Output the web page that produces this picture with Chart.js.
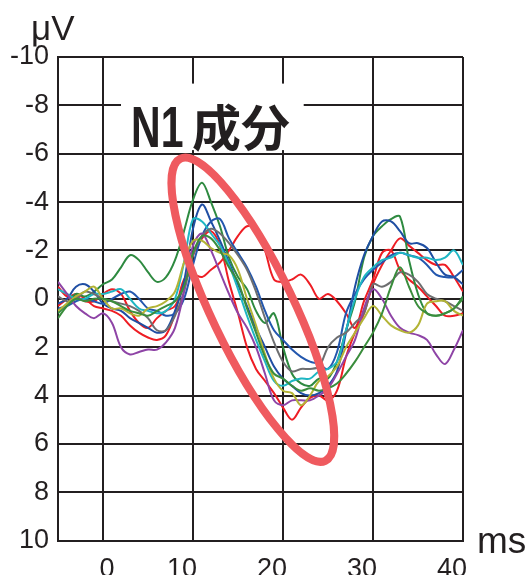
<!DOCTYPE html>
<html>
<head>
<meta charset="utf-8">
<script src="https://cdn.jsdelivr.net/npm/chart.js@4.4.1/dist/chart.umd.min.js"></script>
<style>
  html, body { margin: 0; padding: 0; background: #fff; overflow: hidden; }
  #wrap { position: relative; width: 529px; height: 599px; }
</style>
</head>
<body>
<div id="wrap"><canvas id="n1Chart"></canvas></div>
<script>
// time axis (ms) and tick values
const timeMs = [-5, -4, -3, -2, -1, 0, 1, 2, 3, 4, 5, 6, 7, 8, 9, 10, 11, 12, 13, 14, 15, 16, 17, 18, 19, 20,
  21, 22, 23, 24, 25, 26, 27, 28, 29, 30, 31, 32, 33, 34, 35, 36, 37, 38, 39, 40];
const xTicks = [0, 10, 20, 30, 40];
const yTicks = [-10, -8, -6, -4, -2, 0, 2, 4, 6, 8, 10];

// waveforms (uV), one value per ms
const green1 = [0.6, 0.2, -0.2, -0.1, -0.3, -0.6, -0.8, -1.3, -1.8, -1.6, -1.1, -0.7, -0.9, -1.6, -2.8, -4.1,
  -4.8, -4.0, -3.0, -1.7, -0.9, -0.4, 0.5, 1.0, 0.6, 2.0, 3.1, 3.5, 3.6, 3.3, 3.3, 2.6, 1.3, 0.1, -1.7, -2.6,
  -3.0, -3.3, -3.4, -1.6, -0.2, 0.6, 0.7, 0.6, 0.4, -0.1];
const green2 = [0.8, 0.3, 0.0, 0.1, 0.0, 0.0, 0.1, 0.3, 0.5, 0.6, 0.7, 0.5, 0.3, 0.1, -0.5, -1.9,
  -2.6, -2.5, -2.0, -1.3, -0.7, 0.4, 1.4, 2.4, 3.1, 3.3, 3.6, 3.8, 3.7, 3.8, 3.7, 3.5, 3.1, 2.6, 2.0, 1.4,
  0.6, -0.5, -1.3, -0.5, 0.3, 0.6, 0.7, 0.6, 0.4, 0.0];
const blue1 = [0.2, 0.0, -0.5, -0.6, -0.3, 0.2, 0.4, 0.5, 0.8, 1.0, 1.2, 1.4, 1.3, 0.5, -0.7, -2.9,
  -3.9, -3.2, -2.4, -1.5, -0.6, 0.3, 1.2, 2.0, 2.8, 3.3, 3.6, 3.9, 4.0, 3.9, 3.6, 3.0, 1.4, -0.5, -1.8, -2.6,
  -3.2, -3.2, -2.8, -2.3, -2.3, -2.1, -1.5, -1.0, -0.9, -0.6];
const blue2 = [0.4, 0.3, 0.1, 0.0, 0.1, 0.2, 0.0, -0.2, -0.3, 0.0, 0.4, 0.5, 0.7, 0.6, 0.0, -1.4,
  -2.6, -3.2, -3.3, -2.5, -1.9, -1.3, -0.5, 0.5, 1.3, 1.7, 2.1, 2.4, 2.6, 2.7, 2.9, 2.2, 0.6, -0.2, -0.8, -1.2,
  -1.5, -1.8, -1.9, -1.8, -1.7, -1.4, -1.0, -0.9, -0.9, -1.2];
const cyan = [-0.4, -0.2, 0.0, 0.0, -0.2, -0.2, -0.3, -0.4, 0.0, 0.4, 0.5, 0.6, 0.5, 0.0, -1.5, -3.3,
  -3.2, -2.7, -2.2, -1.4, -0.4, 0.7, 1.7, 2.6, 3.4, 3.6, 3.4, 3.3, 3.3, 3.0, 2.9, 2.6, 1.3, 0.0, -0.9, -1.3,
  -1.6, -1.7, -1.9, -1.8, -1.7, -1.7, -1.6, -1.7, -2.0, -1.4];
const gray = [-0.1, 0.1, 0.0, -0.3, -0.2, 0.0, 0.1, 0.2, 0.3, 0.5, 0.8, 1.3, 1.3, 0.7, -0.3, -1.8,
  -2.6, -2.9, -2.7, -2.3, -1.8, -1.2, -0.3, 0.8, 1.8, 2.6, 3.0, 2.9, 2.9, 2.8, 2.0, 1.6, 1.4, 1.0, 0.6, -0.6,
  -0.5, -0.7, -1.1, -1.0, -0.7, -0.2, 0.0, 0.1, 0.3, 0.5];
const purple = [-0.7, -0.2, 0.3, 0.6, 0.8, 0.6, 1.0, 2.0, 2.3, 2.2, 2.1, 2.1, 1.8, 1.2, -0.3, -2.2,
  -2.7, -2.0, -1.1, -0.2, 0.6, 1.2, 2.0, 3.1, 4.2, 4.4, 4.2, 4.2, 4.2, 4.0, 3.7, 3.1, 2.4, 1.7, 0.4, -0.4,
  0.0, 0.7, 1.2, 1.4, 1.5, 1.7, 2.3, 2.7, 2.1, 1.3];
const olive = [0.5, 0.2, -0.1, -0.3, -0.5, 0.0, 0.4, 0.4, 0.6, 0.7, 0.4, 0.3, 0.1, -0.3, -1.5, -2.4,
  -2.4, -2.1, -1.9, -1.8, -1.2, 0.0, 1.1, 2.3, 3.3, 3.8, 3.9, 4.4, 4.0, 3.4, 3.2, 2.8, 2.0, 1.4, 0.8, 0.3,
  0.7, 1.1, 1.3, 1.4, 1.1, 0.2, 0.1, 0.1, 0.5, 0.7];
const red1 = [-0.5, -0.1, -0.1, 0.1, 0.1, -0.2, -0.4, -0.2, 0.5, 1.0, 1.2, 0.8, 0.5, 0.3, -0.6, -1.8,
  -2.5, -2.8, -2.2, -0.7, 0.6, 2.0, 2.9, 3.4, 3.9, 4.5, 5.0, 4.5, 4.1, 4.0, 4.2, 3.8, 2.4, 1.4, 0.6, -0.6,
  -1.4, -2.0, -2.5, -2.2, -1.9, -1.6, -1.4, -1.4, -0.9, -0.3];
const red2 = [0.3, 0.0, -0.2, 0.0, 0.3, 0.4, 0.5, 0.7, 1.1, 1.4, 1.6, 1.7, 1.5, 0.6, -0.8, -1.0,
  -0.9, -1.2, -1.5, -2.0, -2.6, -3.0, -2.9, -2.0, -0.8, -0.7, -0.8, -1.0, -0.6, 0.0, -0.2, 0.1, 0.6, 1.2, 0.1, -0.8,
  -1.9, -2.0, -1.2, -0.8, -0.5, -0.1, 0.3, 0.7, 0.7, 0.6];

const ink = '#231f20';
const fontFamily = '"Liberation Sans", Arial, sans-serif';

// N1 label box and ellipse, in data units (ms, uV)
const labelBox = { x0: 2.0, x1: 22.3, y0: -8.9, y1: -6.15 };
const ellipseEnds = { x0: 8.6, y0: -5.8, x1: 24.7, y1: 6.7 };

function series(label, values, color) {
  return {
    label: label,
    data: timeMs.map((t, i) => ({ x: t, y: values[i] })),
    borderColor: color,
    borderWidth: 2,
    pointRadius: 0,
    tension: 0.35,
    fill: false
  };
}

const annotations = {
  id: 'annotations',
  beforeDatasetsDraw(chart) {
    const { ctx, scales: { x, y } } = chart;
    const bx0 = x.getPixelForValue(labelBox.x0);
    const bx1 = x.getPixelForValue(labelBox.x1);
    const by0 = y.getPixelForValue(labelBox.y0);
    const by1 = y.getPixelForValue(labelBox.y1);
    ctx.save();
    ctx.fillStyle = '#fff';
    ctx.fillRect(bx0, by0, bx1 - bx0, by1 - by0);

    ctx.fillStyle = ink;
    ctx.textBaseline = 'alphabetic';
    ctx.textAlign = 'left';
    // condensed, tall "N1"
    ctx.save();
    ctx.translate(bx0 + 10, by1 - 3);
    ctx.scale(0.72, 1);
    ctx.font = 'bold 57px ' + fontFamily;
    ctx.fillText('N1', 0, 0);
    ctx.restore();
    ctx.font = 'bold 49px "Noto Sans CJK JP", sans-serif';
    ctx.textBaseline = 'middle';
    ctx.fillText('成分', bx0 + 71, (by0 + by1) / 2 + 11);
    ctx.restore();
  },
  afterDatasetsDraw(chart) {
    const { ctx, scales: { x, y } } = chart;
    const px0 = x.getPixelForValue(ellipseEnds.x0);
    const py0 = y.getPixelForValue(ellipseEnds.y0);
    const px1 = x.getPixelForValue(ellipseEnds.x1);
    const py1 = y.getPixelForValue(ellipseEnds.y1);
    const cx = (px0 + px1) / 2;
    const cy = (py0 + py1) / 2;
    const semiMajor = Math.hypot(px1 - px0, py1 - py0) / 2;
    const angle = Math.atan2(py1 - py0, px1 - px0);
    ctx.save();
    ctx.beginPath();
    ctx.ellipse(cx, cy, semiMajor, 41, angle, 0, Math.PI * 2);
    ctx.lineWidth = 8;
    ctx.strokeStyle = '#ef5a5f';
    ctx.stroke();
    ctx.restore();
  },
  afterDraw(chart) {
    const { ctx, chartArea } = chart;
    ctx.save();
    ctx.fillStyle = ink;
    ctx.textBaseline = 'alphabetic';
    ctx.textAlign = 'left';
    ctx.font = '35px ' + fontFamily;
    ctx.fillText('μV', chartArea.left - 27, chartArea.top - 17);
    ctx.font = '37px ' + fontFamily;
    ctx.fillText('ms', chartArea.right + 14, chartArea.bottom + 12);
    ctx.restore();
  }
};

const chart = new Chart(document.getElementById('n1Chart'), {
  type: 'line',
  data: {
    datasets: [
      series('green 2', green2, '#3a8d3c'),
      series('olive', olive, '#b3b436'),
      series('purple', purple, '#8e44a6'),
      series('gray', gray, '#6d6e70'),
      series('cyan', cyan, '#1fb6c3'),
      series('blue 2', blue2, '#2357ae'),
      series('blue 1', blue1, '#1f4ea3'),
      series('green 1', green1, '#2e8a40'),
      series('red 1', red1, '#ee1d24'),
      series('red 2', red2, '#ee1d24')
    ]
  },
  options: {
    responsive: true,
    maintainAspectRatio: false,
    animation: false,
    layout: {
      padding: { top: 57, right: 66, left: 0, bottom: 0 }
    },
    scales: {
      x: {
        type: 'linear',
        min: -5,
        max: 40,
        afterBuildTicks: (scale) => { scale.ticks = xTicks.map(v => ({ value: v })); },
        grid: { color: ink, lineWidth: 2, drawTicks: false },
        border: { color: ink, width: 2 },
        ticks: {
          color: ink,
          font: { family: fontFamily, size: 27 },
          padding: 13,
          labelOffset: -11,
          maxRotation: 0,
          autoSkip: false,
          callback: (v) => v === 0 ? '\u2007\u20070' : String(v)
        }
      },
      y: {
        type: 'linear',
        min: -10,
        max: 10,
        reverse: true,
        afterBuildTicks: (scale) => { scale.ticks = yTicks.map(v => ({ value: v })); },
        afterFit: (scale) => { scale.width = 58; },
        grid: { color: ink, lineWidth: 2, drawTicks: false },
        border: { color: ink, width: 2 },
        ticks: {
          color: ink,
          font: { family: fontFamily, size: 27 },
          padding: 9,
          autoSkip: false,
          callback: (v) => String(v)
        }
      }
    },
    plugins: {
      legend: { display: false },
      tooltip: { enabled: false }
    }
  },
  plugins: [annotations]
});
</script>
</body>
</html>
